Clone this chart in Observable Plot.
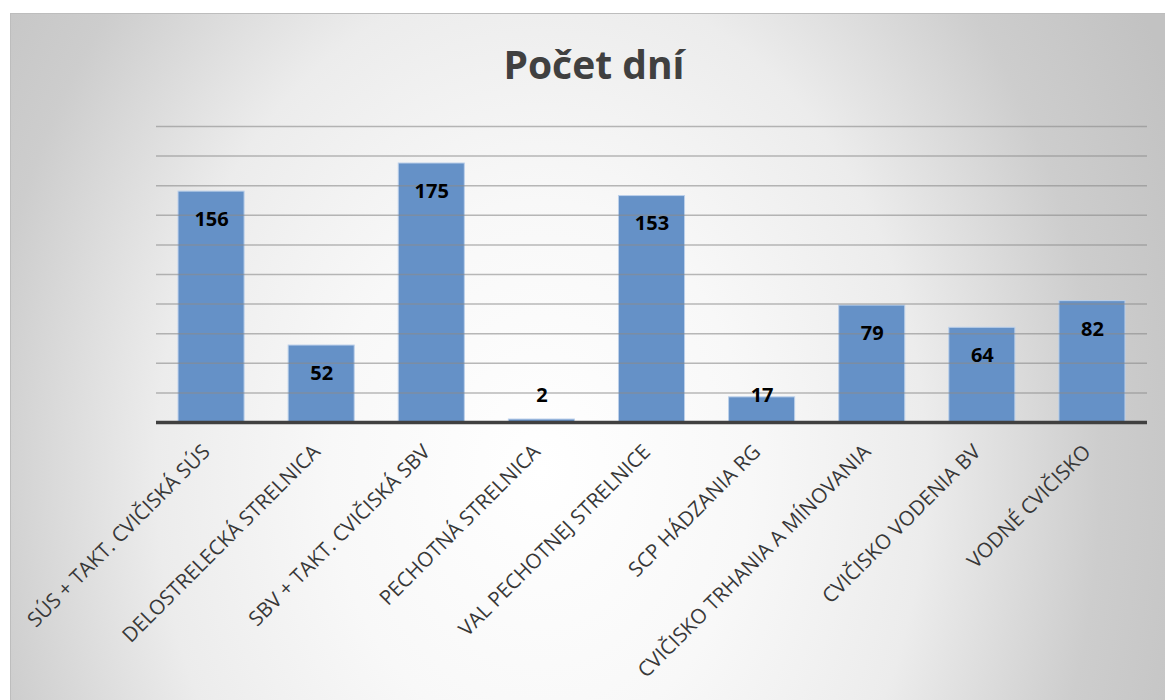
<!DOCTYPE html>
<html>
<head>
<meta charset="utf-8">
<script src="https://cdn.jsdelivr.net/npm/d3@7"></script>
<script src="https://cdn.jsdelivr.net/npm/@observablehq/plot@0.6"></script>
<style>
  html, body { margin: 0; padding: 0; background: #fff; }
  body { width: 1165px; height: 700px; position: relative; overflow: hidden; }
  #box {
    position: absolute; left: 10px; top: 13px; width: 1155px; height: 687px;
    box-sizing: border-box;
    border-top: 1px solid #bdbdbd; border-left: 1px solid #bdbdbd;
    background: radial-gradient(ellipse 700px 900px at 530px 457px, #ffffff 0%, #f8f8f8 30%, #ececec 55%, #cdcdcd 80%, #c2c2c2 100%);
  }
  #title {
    position: absolute; left: 12px; right: 0; top: 30px;
    text-align: center; font-family: "Open Sans", sans-serif; font-weight: bold;
    font-size: 39px; line-height: 1; color: #404040;
  }
  #chart { position: absolute; left: 0; top: 0; }
</style>
</head>
<body>
<div id="box">
  <div id="chart"></div>
  <div id="title">Počet dní</div>
</div>
<script>
const categories = [
  "SÚS + TAKT. CVIČISKÁ SÚS",
  "DELOSTRELECKÁ STRELNICA",
  "SBV + TAKT. CVIČISKÁ SBV",
  "PECHOTNÁ STRELNICA",
  "VAL PECHOTNEJ STRELNICE",
  "SCP HÁDZANIA RG",
  "CVIČISKO TRHANIA A MÍNOVANIA",
  "CVIČISKO VODENIA BV",
  "VODNÉ CVIČISKO"
];
const values = [156, 52, 175, 2, 153, 17, 79, 64, 82];
const gridTicks = [20, 40, 60, 80, 100, 120, 140, 160, 180, 200];

const data = categories.map((c, i) => ({c, v: values[i]}));

const chart = Plot.plot({
  width: 1154,
  height: 686,
  marginLeft: 145,
  marginRight: 18,
  marginTop: 112,
  marginBottom: 278,
  style: {background: "transparent", fontFamily: "Open Sans, sans-serif", fontSize: "20.5px", color: "#383838", overflow: "visible"},
  x: {domain: categories, paddingInner: 0.4, paddingOuter: 0.2, round: false, label: null},
  y: {domain: [0, 200], axis: null},
  marks: [
    Plot.barY(data, {x: "c", y: "v", fill: "#6591c7", stroke: "#bcd0ea", strokeWidth: 1}),
    Plot.ruleY(gridTicks, {stroke: "#8a8a8a", strokeOpacity: 0.6, strokeWidth: 1.5}),
    Plot.ruleY([0], {stroke: "#404040", strokeWidth: 3.5}),
    Plot.axisX({tickRotate: -45, tickSize: 0, tickPadding: 26, dx: -5, label: null}),
    Plot.text(data, {
      x: "c", y: d => Math.max(d.v, 37), text: d => String(d.v),
      dy: 28, fontWeight: "bold", fontSize: 20, fill: "#000", lineAnchor: "middle"
    })
  ]
});
document.getElementById("chart").appendChild(chart);
</script>
</body>
</html>
